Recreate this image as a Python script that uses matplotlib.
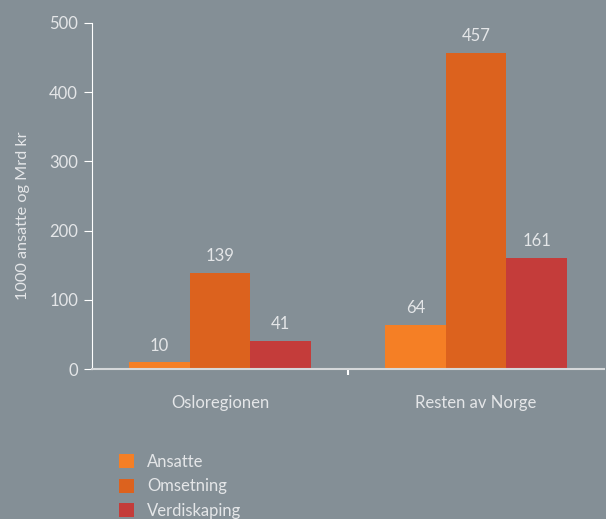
import matplotlib.pyplot as plt
import numpy as np

regions = ["Osloregionen", "Resten av Norge"]
series = ["Ansatte", "Omsetning", "Verdiskaping"]
ansatte = [10, 64]
omsetning = [139, 457]
verdiskaping = [41, 161]
yticks = [0, 100, 200, 300, 400, 500]

bg = "#848f96"
txt = "#e4e6e8"
colors = ["#f57f25", "#dc621e", "#c43c3a"]

plt.rcParams['font.family'] = ['Lato', 'DejaVu Sans']

fig = plt.figure(figsize=(6.06, 5.19), dpi=100, facecolor=bg)
ax = fig.add_axes([92 / 606, 150 / 519, 512 / 606, 346 / 519])
ax.set_facecolor(bg)

x = np.arange(len(regions))
w = 0.237
for k, (name, vals) in enumerate(zip(series, [ansatte, omsetning, verdiskaping])):
    pos = x + (k - 1) * w
    ax.bar(pos, vals, w, color=colors[k], label=name, zorder=2)
    for xi, v in zip(pos, vals):
        ax.annotate(str(v), (xi, v), xytext=(0, 6), textcoords="offset points",
                    ha="center", va="bottom", color=txt, fontsize=12)

ax.set_xlim(-0.5, 1.5)
ax.set_ylim(0, 500)
ax.set_yticks(yticks)
ax.set_xticks(x)
ax.set_xticklabels(regions)
ax.set_xticks([0.5], minor=True)
ax.tick_params(axis="x", which="major", length=0, pad=19, colors=txt, labelsize=12)
ax.tick_params(axis="x", which="minor", length=4, direction="out", color="white", width=1.5)
ax.tick_params(axis="y", length=6, color="white", labelcolor=txt, labelsize=12, pad=4)

for s in ["top", "right"]:
    ax.spines[s].set_visible(False)
ax.spines["left"].set_color("white")
ax.spines["bottom"].set_color("#d5d8da")
ax.spines["bottom"].set_linewidth(1.5)

ax.set_ylabel("1000 ansatte og Mrd kr", color=txt, fontsize=11.7)
ax.yaxis.set_label_coords(-62 / 512, 0.442)

fig.legend(loc="upper left", bbox_to_anchor=(104 / 606, 1 - 439 / 519), frameon=False,
           labelcolor=txt, handlelength=0.9, handleheight=0.9,
           handletextpad=0.8, labelspacing=0.5, prop={"size": 12})

fig.savefig("out.png", dpi=100, facecolor=bg)
